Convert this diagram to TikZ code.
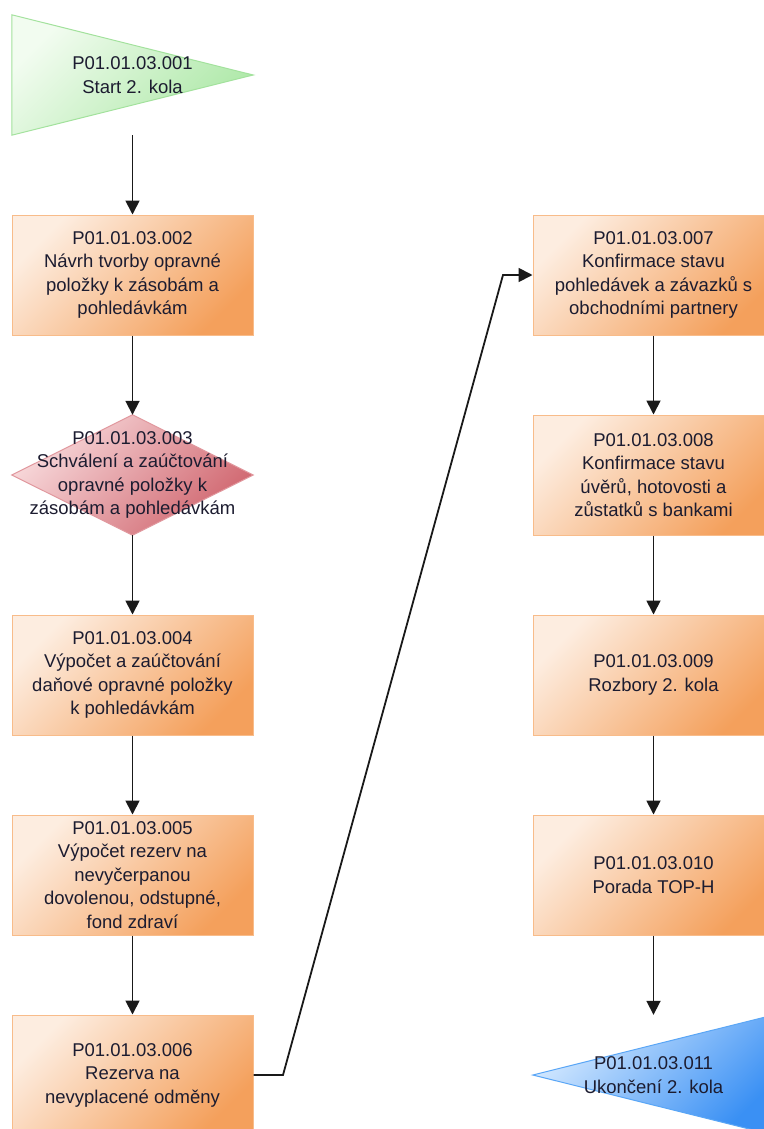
\documentclass[tikz,border=0pt]{standalone}
\usepackage{fontspec}
\setmainfont{Liberation Sans}
\usetikzlibrary{arrows.meta,backgrounds}

\definecolor{txt}{HTML}{1C1C30}
\definecolor{orL}{HTML}{FDEDE0}
\definecolor{orD}{HTML}{F4A05C}
\definecolor{orB}{HTML}{F8BC8A}
\definecolor{grL}{HTML}{F2FCF0}
\definecolor{grD}{HTML}{ADE8A7}
\definecolor{grB}{HTML}{A3E29D}
\definecolor{rdL}{HTML}{F8DADC}
\definecolor{rdD}{HTML}{D0666F}
\definecolor{rdB}{HTML}{E1989E}
\definecolor{blL}{HTML}{D6EAFF}
\definecolor{blD}{HTML}{3A90F4}
\definecolor{blB}{HTML}{5AA6F6}

\begin{document}
\begin{tikzpicture}[x=1pt,y=-1pt,
  stepframe/.style={rectangle, minimum width=241pt, minimum height=120pt,
    inner sep=0pt, align=center, text=txt,
    font=\fontsize{18.5}{23.5}\selectfont},
  proc/.style={stepframe, draw=orB, line width=1pt,
    top color=orL, bottom color=orD, shading angle=45},
  outline/.style={line width=1pt, shading angle=45},
  flow/.style={-{Triangle[length=14pt,width=14pt]}, line width=1.8pt, draw=black!90}
]
\path[use as bounding box] (0,0) rectangle (763,1129);
\begin{scope}[on background layer]
  \fill[white] (0,0) rectangle (763,1129);
\end{scope}

% left column
\node[stepframe] (n001) at (132.5,75) {P01.01.03.001\\Start 2. kola};
\node[proc] (n002) at (132.5,275) {P01.01.03.002\\Návrh tvorby opravné\\položky k zásobám a\\pohledávkám};
\node[stepframe] (n003) at (132.5,475) {P01.01.03.003\\Schválení a zaúčtování\\opravné položky k\\zásobám a pohledávkám};
\node[proc] (n004) at (132.5,675) {P01.01.03.004\\Výpočet a zaúčtování\\daňové opravné položky\\k pohledávkám};
\node[proc] (n005) at (132.5,875) {P01.01.03.005\\Výpočet rezerv na\\nevyčerpanou\\dovolenou, odstupné,\\fond zdraví};
\node[proc] (n006) at (132.5,1075) {P01.01.03.006\\Rezerva na\\nevyplacené odměny};

% right column
\node[proc] (n007) at (653.5,275) {P01.01.03.007\\Konfirmace stavu\\pohledávek a závazků s\\obchodními partnery};
\node[proc] (n008) at (653.5,475) {P01.01.03.008\\Konfirmace stavu\\úvěrů, hotovosti a\\zůstatků s bankami};
\node[proc] (n009) at (653.5,675) {P01.01.03.009\\Rozbory 2. kola};
\node[proc] (n010) at (653.5,875) {P01.01.03.010\\Porada TOP-H};
\node[stepframe] (n011) at (653.5,1075) {P01.01.03.011\\Ukončení 2. kola};

% start, decision and end shapes behind their labels
\begin{scope}[on background layer]
  \path[outline, draw=grB, top color=grL, bottom color=grD, shading angle=45]
    (n001.north west) -- (n001.east) -- (n001.south west) -- cycle;
  \path[outline, draw=rdB, top color=rdL, bottom color=rdD, shading angle=45]
    (n003.north) -- (n003.east) -- (n003.south) -- (n003.west) -- cycle;
  \path[outline, draw=blB, top color=blL, bottom color=blD, shading angle=45]
    (n011.west) -- (n011.north east) -- (n011.south east) -- cycle;
\end{scope}

% connectors
\draw[flow] (n001.south) -- (n002.north);
\draw[flow] (n002.south) -- (n003.north);
\draw[flow] (n003.south) -- (n004.north);
\draw[flow] (n004.south) -- (n005.north);
\draw[flow] (n005.south) -- (n006.north);
\coordinate (k1) at (283,1075);
\coordinate (k2) at (503,275);
\draw[flow] (n006.east) -- (k1) -- (k2) -- (n007.west);
\draw[flow] (n007.south) -- (n008.north);
\draw[flow] (n008.south) -- (n009.north);
\draw[flow] (n009.south) -- (n010.north);
\draw[flow] (n010.south) -- (n011.north);
\end{tikzpicture}
\end{document}
